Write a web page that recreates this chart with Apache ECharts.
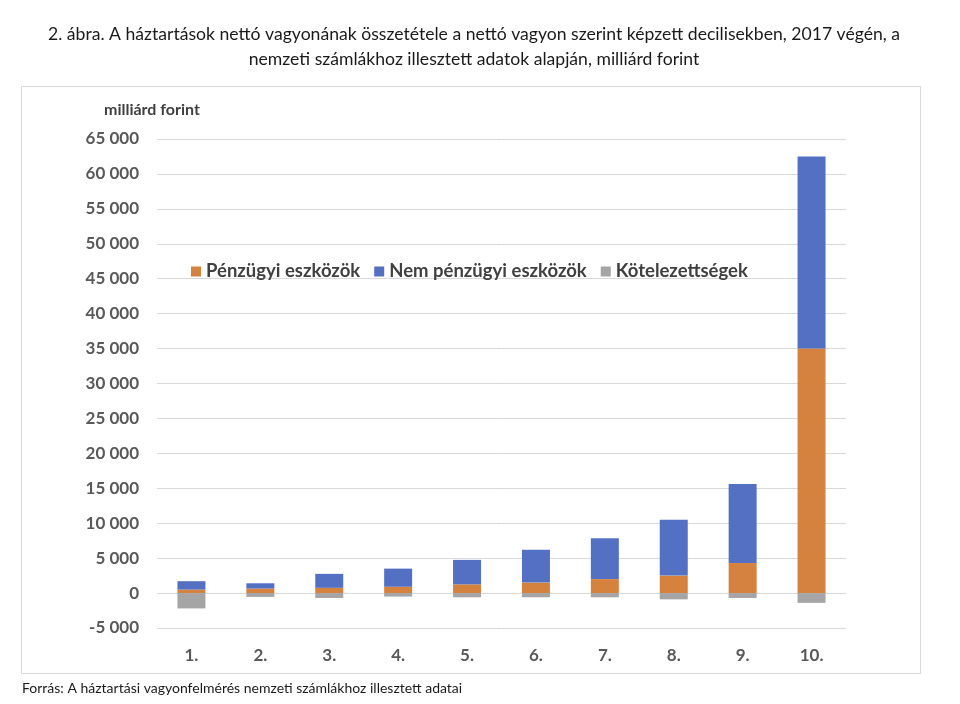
<!DOCTYPE html>
<html>
<head>
<meta charset="utf-8">
<script src="https://cdn.jsdelivr.net/npm/echarts@6/dist/echarts.min.js"></script>
<style>html,body{margin:0;padding:0;background:#fff;}#c{width:960px;height:704px;}</style>
</head>
<body>
<div id="c"></div>
<script>
const categories = ['1.', '2.', '3.', '4.', '5.', '6.', '7.', '8.', '9.', '10.'];
const penzugyi = [500, 650, 750, 900, 1250, 1500, 2000, 2500, 4300, 35000];
const nemPenzugyi = [1200, 750, 2000, 2600, 3500, 4700, 5850, 8000, 11300, 27500];
const kotelezettseg = [-2200, -550, -700, -500, -600, -600, -600, -900, -700, -1400];
const seriesNames = ['Pénzügyi eszközök', 'Nem pénzügyi eszközök', 'Kötelezettségek'];
const titleLines = ['2. ábra. A háztartások nettó vagyonának összetétele a nettó vagyon szerint képzett decilisekben, 2017 végén, a', 'nemzeti számlákhoz illesztett adatok alapján, milliárd forint'];
const unitLabel = 'milliárd forint';
const sourceText = 'Forrás: A háztartási vagyonfelmérés nemzeti számlákhoz illesztett adatai';

const FONT = 'Lato, "Liberation Sans", sans-serif';
const fmt = v => {
  const s = String(Math.abs(v)).replace(/\B(?=(\d{3})+(?!\d))/g, ' ');
  return (v < 0 ? '-' : '') + s;
};

const chart = echarts.init(document.getElementById('c'), null, {renderer: 'canvas'});
chart.setOption({
  animation: false,
  backgroundColor: '#fff',
  title: {
    text: titleLines.join('\n'),
    left: 469, top: 17, textAlign: 'center',
    textStyle: {fontFamily: FONT, fontSize: 17.6, fontWeight: 'normal', color: '#1a1a1a', lineHeight: 25}
  },
  graphic: [
    {type: 'rect', z: -10, shape: {x: 21.5, y: 86.5, width: 899, height: 587}, style: {fill: '#fff', stroke: '#D9D9D9', lineWidth: 1}},
    {type: 'text', left: 104, top: 102, style: {text: unitLabel, font: 'bold 16px ' + FONT, fill: '#404040'}},
    {type: 'text', left: 22, top: 681, style: {text: sourceText, font: '14px ' + FONT, fill: '#1a1a1a'}}
  ],
  legend: {
    left: 186, top: 257, itemWidth: 10, itemHeight: 10, itemGap: 14,
    icon: 'rect',
    textStyle: {fontFamily: FONT, fontSize: 18.5, fontWeight: 'bold', color: '#404040'},
    data: seriesNames
  },
  grid: {left: 157, right: 114, top: 139, bottom: 76, containLabel: false},
  xAxis: {
    type: 'category', data: categories,
    axisLine: {show: false}, axisTick: {show: false},
    axisLabel: {margin: 19, fontFamily: FONT, fontSize: 17, fontWeight: 'bold', color: '#595959'}
  },
  yAxis: {
    type: 'value', min: -5000, max: 65000, interval: 5000,
    axisLine: {show: false}, axisTick: {show: false},
    axisLabel: {margin: 18, fontFamily: FONT, fontSize: 17, fontWeight: 'bold', color: '#595959', formatter: fmt},
    splitLine: {lineStyle: {color: '#D9D9D9', width: 1}}
  },
  series: [
    {name: seriesNames[0], type: 'bar', stack: 'a', data: penzugyi, barWidth: 28, itemStyle: {color: '#D6823F'}},
    {name: seriesNames[1], type: 'bar', stack: 'a', data: nemPenzugyi, barWidth: 28, itemStyle: {color: '#5470C3'}},
    {name: seriesNames[2], type: 'bar', stack: 'a', data: kotelezettseg, barWidth: 28, itemStyle: {color: '#A5A5A5'}}
  ]
});
</script>
</body>
</html>
